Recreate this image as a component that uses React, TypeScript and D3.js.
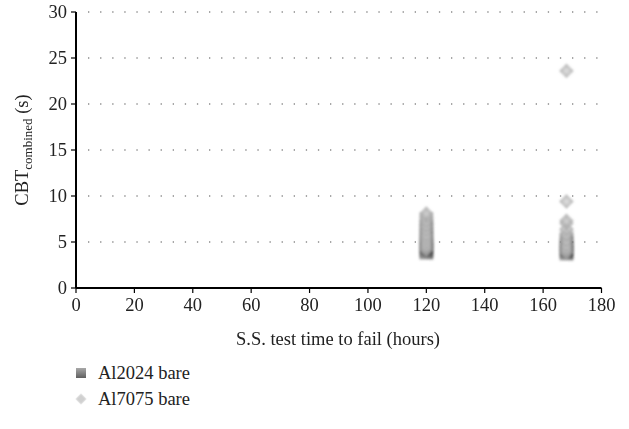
import React from "react";
import * as d3 from "d3";

const xTicks = [0, 20, 40, 60, 80, 100, 120, 140, 160, 180];
const yTicks = [0, 5, 10, 15, 20, 25, 30];
const gridLevels = [5, 10, 15, 20, 25, 30];

// Al2024 bare (squares)
const al2024Hours = [120, 120, 120, 120, 120, 120, 120, 120, 120, 120, 120, 120, 120, 120, 120, 120, 120, 120,
  168, 168, 168, 168, 168, 168, 168, 168, 168, 168, 168, 168, 168];
const al2024Cbt = [3.8, 3.9, 4.0, 4.1, 4.2, 4.3, 4.4, 4.5, 4.6, 4.8, 5.0, 5.2, 5.5, 5.8, 6.2, 6.6, 7.0, 7.5,
  3.7, 3.8, 3.9, 4.0, 4.1, 4.2, 4.3, 4.4, 4.6, 4.8, 5.0, 5.3, 5.6];

// Al7075 bare (diamonds)
const al7075Hours = [120, 120, 120, 120, 120, 120, 120, 120, 120, 120,
  168, 168, 168, 168, 168, 168, 168, 168, 168, 168];
const al7075Cbt = [4.2, 4.6, 5.0, 5.4, 5.8, 6.3, 6.8, 7.3, 7.8, 8.1,
  3.9, 4.3, 4.7, 5.2, 5.8, 6.4, 7.0, 7.3, 9.4, 23.6];

const seriesNames = ["Al2024 bare", "Al7075 bare"];

const W = 629, H = 429;
const x = d3.scaleLinear().domain([0, 180]).range([76, 601.5]);
const y = d3.scaleLinear().domain([0, 30]).range([288, 12]);
const font = "'Liberation Serif', 'DejaVu Serif', serif";
const fs = 18.5;

export default function App() {
  const sq = d3.symbol().type(d3.symbolSquare).size(190)() as string;
  const dm = d3.symbol().type(d3.symbolSquare).size(105)() as string;
  return (
    <svg width={W} height={H} style={{ position: "absolute", left: 0, top: 0, background: "#fff" }}>
      <defs>
        <linearGradient id="gSq" x1="0" y1="0" x2="1" y2="1">
          <stop offset="0" stopColor="#a0a0a0" />
          <stop offset="1" stopColor="#3c3c3c" />
        </linearGradient>
        <linearGradient id="gSqL" x1="0" y1="0" x2="0" y2="1">
          <stop offset="0" stopColor="#a8a8a8" />
          <stop offset="1" stopColor="#606060" />
        </linearGradient>
        <radialGradient id="gDm" cx="0.5" cy="0.5" r="0.6">
          <stop offset="0" stopColor="#d6d6d6" />
          <stop offset="1" stopColor="#a0a0a0" />
        </radialGradient>
        <filter id="blur" x="-50%" y="-50%" width="200%" height="200%">
          <feGaussianBlur stdDeviation="1.3" />
        </filter>
        <filter id="blurS" x="-50%" y="-50%" width="200%" height="200%">
          <feGaussianBlur stdDeviation="0.5" />
        </filter>
      </defs>
      {gridLevels.map((v) => (
        <line key={v} x1={88} x2={601} y1={y(v)} y2={y(v)} stroke="#8a8a8a" strokeWidth={1.3}
          strokeDasharray="1.3 10.8" />
      ))}
      <g filter="url(#blur)">
        {al2024Cbt.map((v, i) => (
          <path key={"a" + i} d={sq} transform={`translate(${x(al2024Hours[i])},${y(v)})`}
            fill="url(#gSq)" opacity={0.35} />
        ))}
        {al7075Cbt.map((v, i) => (
          <path key={"b" + i} d={dm} transform={`translate(${x(al7075Hours[i])},${y(v)}) rotate(45)`}
            fill="url(#gDm)" opacity={0.75} />
        ))}
      </g>
      {/* axes */}
      <line x1={x(0)} x2={x(180)} y1={y(0)} y2={y(0)} stroke="#000" strokeWidth={2} />
      <line x1={x(0)} x2={x(0)} y1={y(0)} y2={y(30)} stroke="#000" strokeWidth={2} />
      {xTicks.map((t) => (
        <g key={"x" + t}>
          <line x1={x(t)} x2={x(t)} y1={y(0)} y2={y(0) + 5} stroke="#000" strokeWidth={1.2} />
          <text x={x(t)} y={y(0) + 23} textAnchor="middle" fontFamily={font} fontSize={fs} fill="#222">{t}</text>
        </g>
      ))}
      {yTicks.map((t) => (
        <g key={"y" + t}>
          <line x1={x(0) - 5} x2={x(0)} y1={y(t)} y2={y(t)} stroke="#000" strokeWidth={1.2} />
          <text x={x(0) - 9} y={y(t) + 6} textAnchor="end" fontFamily={font} fontSize={fs} fill="#222">{t}</text>
        </g>
      ))}
      <text x={338} y={345} textAnchor="middle" fontFamily={font} fontSize={fs} fill="#222">S.S. test time to fail (hours)</text>
      <text transform={`translate(28,150) rotate(-90)`} textAnchor="middle" fontFamily={font} fontSize={fs} fill="#222">
        CBT<tspan fontSize={13} dy={4}>combined</tspan><tspan dy={-4}> (s)</tspan>
      </text>
      {/* legend */}
      <path d={d3.symbol().type(d3.symbolSquare).size(100)() as string} transform="translate(81,373)" fill="url(#gSqL)" filter="url(#blurS)" />
      <text x={98} y={379} fontFamily={font} fontSize={fs} fill="#222">{seriesNames[0]}</text>
      <path d={d3.symbol().type(d3.symbolSquare).size(55)() as string} transform="translate(81,399) rotate(45)" fill="#d0d0d0" filter="url(#blurS)" />
      <text x={98} y={405} fontFamily={font} fontSize={fs} fill="#222">{seriesNames[1]}</text>
    </svg>
  );
}
